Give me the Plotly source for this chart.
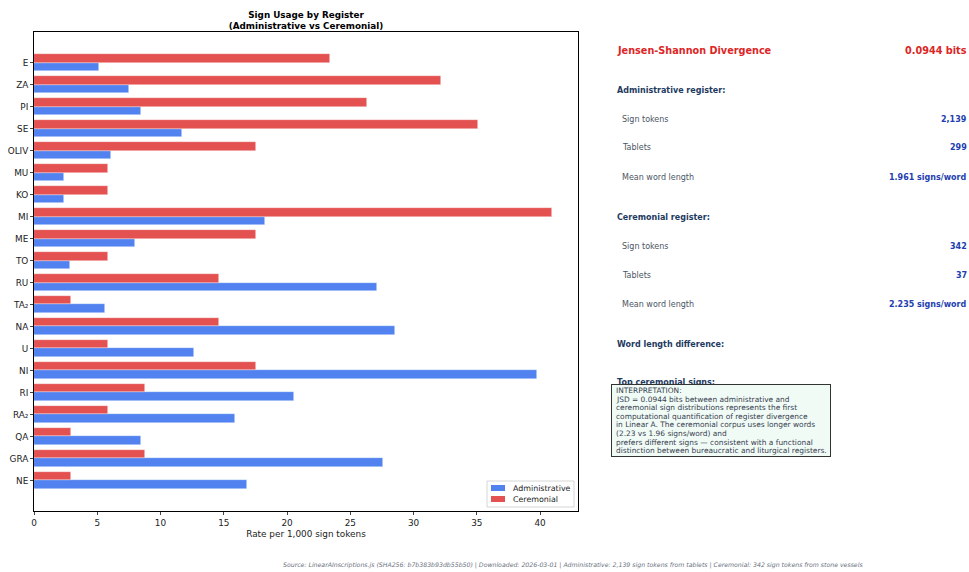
import plotly.graph_objects as go

# Sign categories, listed bottom-to-top as they appear on the y axis
signs = ["NE", "GRA", "QA", "RA₂", "RI", "NI", "U", "NA", "TA₂", "RU",
         "TO", "ME", "MI", "KO", "MU", "OLIV", "SE", "PI", "ZA", "E"]

# Rate per 1,000 sign tokens
admin_rate = [16.83, 27.58, 8.42, 15.90, 20.57, 39.74, 12.62, 28.52, 5.61, 27.12,
              2.81, 7.95, 18.23, 2.34, 2.34, 6.08, 11.69, 8.42, 7.48, 5.14]
cere_rate = [2.92, 8.77, 2.92, 5.85, 8.77, 17.54, 5.85, 14.62, 2.92, 14.62,
             5.85, 17.54, 40.94, 5.85, 5.85, 17.54, 35.09, 26.32, 32.16, 23.39]

x_ticks = [0, 5, 10, 15, 20, 25, 30, 35, 40]

stats_admin = [("Sign tokens", "2,139"), ("Tablets", "299"), ("Mean word length", "1.961 signs/word")]
stats_cere = [("Sign tokens", "342"), ("Tablets", "37"), ("Mean word length", "2.235 signs/word")]
jsd_text = "0.0944 bits"

interpretation = [
    "INTERPRETATION:",
    "JSD = 0.0944 bits between administrative and",
    "ceremonial sign distributions represents the first",
    "computational quantification of register divergence",
    "in Linear A. The ceremonial corpus uses longer words",
    "(2.23 vs 1.96 signs/word) and",
    "prefers different signs — consistent with a functional",
    "distinction between bureaucratic and liturgical registers.",
]

footer = ("Source: LinearAInscriptions.js (SHA256: b7b383b93db55b50) | Downloaded: 2026-03-01 | "
          "Administrative: 2,139 sign tokens from tablets | Ceremonial: 342 sign tokens from stone vessels")

BLUE = "rgba(37,99,235,0.8)"
RED = "rgba(220,38,38,0.8)"
FONT = "DejaVu Sans, sans-serif"
AX_FS = 8.9
LEG_FS = 7.9

W, H = 969, 572
L, R, T, B = 34, 578, 32, 511  # plot area in pixels


def px(x):
    return (x - L) / (R - L)


def py(y):
    return (B - y) / (B - T)


idx = list(range(len(signs)))
bar_w = 0.4

fig = go.Figure()
fig.add_trace(go.Bar(
    name="Administrative", orientation="h",
    y=[i - bar_w / 2 for i in idx], x=admin_rate, width=bar_w,
    marker=dict(color=BLUE, line=dict(color="rgba(255,255,255,0.6)", width=0.6)),
))
fig.add_trace(go.Bar(
    name="Ceremonial", orientation="h",
    y=[i + bar_w / 2 for i in idx], x=cere_rate, width=bar_w,
    marker=dict(color=RED, line=dict(color="rgba(255,255,255,0.6)", width=0.6)),
))

annotations = []
shapes = []

# Compact legend box in the lower-right corner of the axes
shapes.append(dict(type="rect", xref="paper", yref="paper",
                   x0=px(487), x1=px(574), y0=py(507), y1=py(481),
                   line=dict(color="#cccccc", width=0.8), fillcolor="rgba(255,255,255,0.85)"))
for name, col, yc in [("Administrative", BLUE, 488), ("Ceremonial", RED, 499)]:
    shapes.append(dict(type="rect", xref="paper", yref="paper",
                       x0=px(491), x1=px(505), y0=py(yc + 3), y1=py(yc - 3),
                       line=dict(width=0), fillcolor=col))
    annotations.append(dict(x=px(511), y=py(yc), text=name,
                            font=dict(size=LEG_FS, color="#222", family=FONT),
                            xanchor="left", yanchor="middle"))

# Right-hand summary panel
annotations.append(dict(x=px(615), y=py(50), text="<b>Jensen-Shannon Divergence</b>",
                        font=dict(size=9.7, color="#dc2626", family=FONT),
                        xanchor="left", yanchor="middle"))
annotations.append(dict(x=px(969), y=py(50), text=f"<b>{jsd_text}</b>",
                        font=dict(size=9.7, color="#dc2626", family=FONT),
                        xanchor="right", yanchor="middle"))

HDR_FS = 8.0
ROW_FS = 8.0


def section(title, y0, rows):
    annotations.append(dict(x=px(615), y=py(y0), text=f"<b>{title}</b>",
                            font=dict(size=HDR_FS, color="#1e3a5f", family=FONT),
                            xanchor="left", yanchor="middle"))
    for k, (lab, val) in enumerate(rows):
        yy = y0 + 29 * (k + 1)
        annotations.append(dict(x=px(620), y=py(yy), text=lab,
                                font=dict(size=ROW_FS, color="#4b5563", family=FONT),
                                xanchor="left", yanchor="middle"))
        annotations.append(dict(x=px(969), y=py(yy), text=f"<b>{val}</b>",
                                font=dict(size=ROW_FS, color="#1e40af", family=FONT),
                                xanchor="right", yanchor="middle"))


section("Administrative register:", 90, stats_admin)
section("Ceremonial register:", 217, stats_cere)

annotations.append(dict(x=px(615), y=py(344), text="<b>Word length difference:</b>",
                        font=dict(size=HDR_FS, color="#1e3a5f", family=FONT),
                        xanchor="left", yanchor="middle"))
annotations.append(dict(x=px(615), y=py(382.5), text="<b>Top ceremonial signs:</b>",
                        font=dict(size=HDR_FS, color="#1e3a5f", family=FONT),
                        xanchor="left", yanchor="middle"))

# Interpretation box (drawn after the header so it sits on top of it)
annotations.append(dict(x=px(611), y=py(384), text=" ", width=218, height=71,
                        xanchor="left", yanchor="top",
                        bgcolor="rgba(240,251,244,0.93)", bordercolor="#333333",
                        borderwidth=1, borderpad=0))
for k, line in enumerate(interpretation):
    annotations.append(dict(x=px(613.5), y=py(390.5 + 8.6 * k), text=line,
                            font=dict(size=7.45, color="#374151", family=FONT),
                            xanchor="left", yanchor="middle", align="left"))

# Footer
annotations.append(dict(x=px(573), y=py(565), text=f"<i>{footer}</i>",
                        font=dict(size=6.2, color="#6b7280", family=FONT),
                        xanchor="center", yanchor="middle"))

for a in annotations:
    a.update(xref="paper", yref="paper", showarrow=False)

fig.update_layout(
    width=W, height=H, autosize=False,
    margin=dict(l=L, r=W - R, t=T, b=H - B, pad=0, autoexpand=False),
    paper_bgcolor="white", plot_bgcolor="white",
    font=dict(family=FONT, size=AX_FS, color="#222"),
    title=dict(text="<b>Sign Usage by Register<br>(Administrative vs Ceremonial)</b>",
               xref="container", x=306 / W, xanchor="center",
               yref="container", y=1 - 18 / H, yanchor="middle",
               font=dict(size=8.8, color="black", family=FONT)),
    barmode="overlay",
    bargap=0,
    showlegend=False,
    xaxis=dict(range=[0, 43], tickvals=x_ticks, ticks="outside", ticklen=3,
               showgrid=False, zeroline=False, showline=True, linecolor="black",
               linewidth=0.8, mirror=True, automargin=False,
               title=dict(text="Rate per 1,000 sign tokens", standoff=4,
                          font=dict(size=AX_FS, family=FONT))),
    yaxis=dict(range=[-1.39, 20.39], tickvals=idx, ticktext=signs, ticks="outside",
               ticklen=3, showgrid=False, zeroline=False, showline=True,
               linecolor="black", linewidth=0.8, mirror=True, automargin=False),
    annotations=annotations,
    shapes=shapes,
)

fig.write_html("out.html")
